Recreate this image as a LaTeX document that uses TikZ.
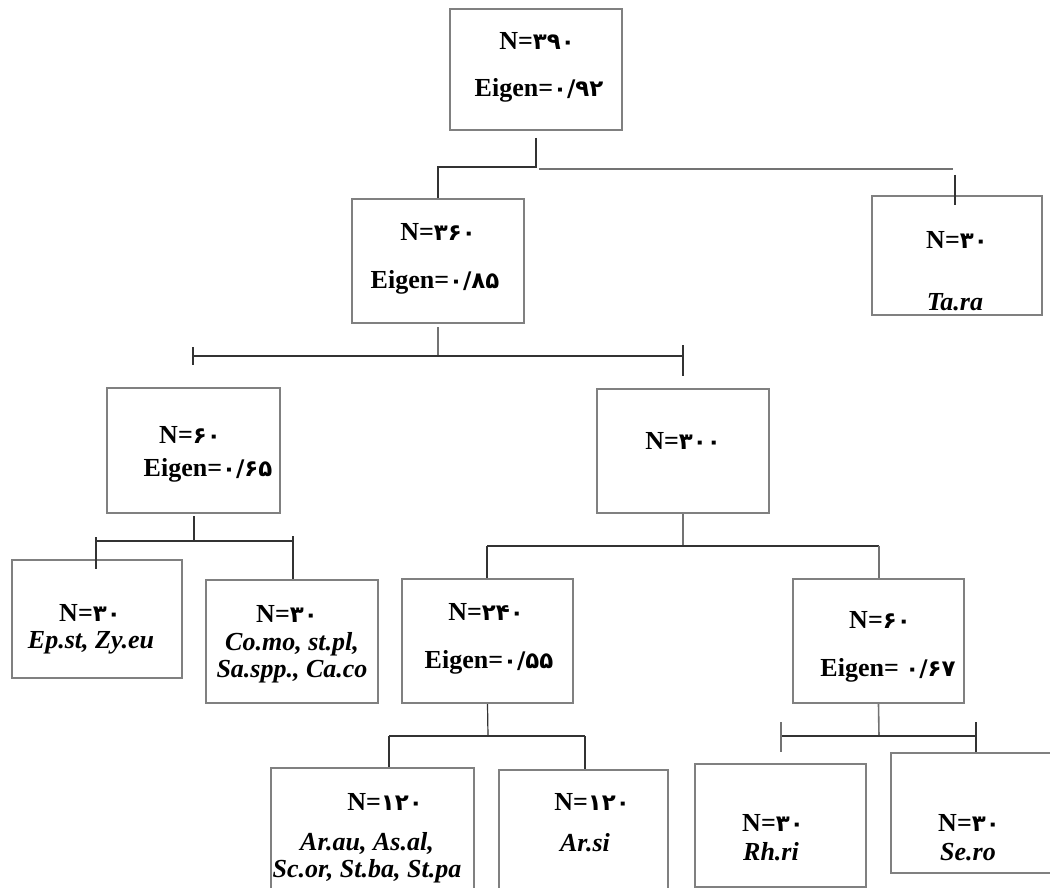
\documentclass[tikz,border=0pt]{standalone}
\usepackage{fontspec}
\setmainfont{Liberation Serif}
\newfontfamily\fa[Script=Arabic,Scale=0.88]{DejaVu Sans}
\begin{document}
\begin{tikzpicture}[x=1pt,y=-1pt,
  box/.style={draw=black!50,line width=2.4pt,fill=white,inner sep=0pt,rectangle},
  lbl/.style={inner sep=0pt,font=\fontsize{26}{30}\selectfont\bfseries},
  sp/.style={inner sep=0pt,font=\fontsize{26}{30}\selectfont\bfseries\itshape},
  con/.style={draw=black!80,line width=1.2pt},
  cong/.style={draw=black!55,line width=1.6pt}]
\useasboundingbox (0,0) rectangle (1050,888);
\fill[white] (0,0) rectangle (1050,888);
% boxes
\node[box,minimum width=172pt,minimum height=121pt] (A) at (536,69.5) {};
\node[box,minimum width=172pt,minimum height=124pt] (B) at (438,261) {};
\node[box,minimum width=170pt,minimum height=119pt] (T) at (957,255.5) {};
\node[box,minimum width=173pt,minimum height=125pt] (C) at (193.5,450.5) {};
\node[box,minimum width=172pt,minimum height=124pt] (D) at (683,451) {};
\node[box,minimum width=170pt,minimum height=118pt] (G) at (97,619) {};
\node[box,minimum width=172pt,minimum height=123pt] (H) at (292,641.5) {};
\node[box,minimum width=171pt,minimum height=124pt] (E) at (487.5,641) {};
\node[box,minimum width=171pt,minimum height=124pt] (F) at (878.5,641) {};
\node[box,minimum width=203pt,minimum height=140pt] (I) at (372.5,838) {};
\node[box,minimum width=169pt,minimum height=140pt] (J) at (583.5,840) {};
\node[box,minimum width=171pt,minimum height=123pt] (K) at (780.5,825.5) {};
\node[box,minimum width=170pt,minimum height=120pt] (L) at (976,813) {};
% connector coordinates
\coordinate (a0) at (536,138); \coordinate (a1) at (536,167);
\coordinate (a2) at (438,167); \coordinate (a3) at (539,169);
\coordinate (a4) at (953,169); \coordinate (a5) at (955,175);
\coordinate (a6) at (955,205);
\coordinate (b0) at (438,327); \coordinate (b1) at (438,356);
\coordinate (b2) at (193,356); \coordinate (b3) at (683,356);
\coordinate (b4) at (193,347); \coordinate (b5) at (193,365);
\coordinate (b6) at (683,345); \coordinate (b7) at (683,376);
\coordinate (c0) at (194,516); \coordinate (c1) at (194,541);
\coordinate (c2) at (96,541); \coordinate (c3) at (293,541);
\coordinate (c4) at (96,537); \coordinate (c5) at (96,569);
\coordinate (c6) at (293,536);
\coordinate (d0) at (683,546); \coordinate (d1) at (487,546);
\coordinate (d2) at (879,546);
\coordinate (e0) at (488,736); \coordinate (e1) at (389,736);
\coordinate (e2) at (585,736);
\coordinate (f0) at (879,736); \coordinate (f1) at (781,736);
\coordinate (f2) at (976,736); \coordinate (f3) at (781,722);
\coordinate (f4) at (781,752); \coordinate (f5) at (976,722);
% connectors
\draw[con] (a0) -- (a1) -- (a2) -- (a2 |- B.north);
\draw[cong] (a3) -- (a4);
\draw[con] (a5) -- (a6);
\draw[cong] (b0) -- (b1);
\draw[con] (b2) -- (b3);
\draw[con] (b4) -- (b5);
\draw[con] (b6) -- (b7);
\draw[con] (c0) -- (c1) -- (c2);
\draw[con] (c1) -- (c3);
\draw[con] (c4) -- (c5);
\draw[con] (c6) -- (c6 |- H.north);
\draw[cong] (D.south) -- (d0);
\draw[con] (d1) -- (d2);
\draw[con] (d1) -- (d1 |- E.north);
\draw[cong] (d2) -- (d2 |- F.north);
\draw[con] (E.south) -- (e0);
\draw[con] (e1) -- (e2);
\draw[con] (e1) -- (e1 |- I.north);
\draw[con] (e2) -- (e2 |- J.north);
\draw[cong] (F.south) -- (f0);
\draw[con] (f1) -- (f2);
\draw[cong] (f3) -- (f4);
\draw[con] (f5) -- (f5 |- L.north);
% labels
\node[lbl] (tA1) at (537,41) {N=\fa ۳۹۰};
\node[lbl] (tA2) at (539,90) {Eigen=\fa ۰/۹۲};
\node[lbl] (tB1) at (438,232) {N=\fa ۳۶۰};
\node[lbl] (tB2) at (435,282) {Eigen=\fa ۰/۸۵};
\node[lbl] (tT1) at (957,240) {N=\fa ۳۰};
\node[sp]  (tT2) at (955,302) {Ta.ra};
\node[lbl] (tC1) at (190,435) {N=\fa ۶۰};
\node[lbl] (tC2) at (208,470) {Eigen=\fa ۰/۶۵};
\node[lbl] (tD1) at (683,441) {N=\fa ۳۰۰};
\node[lbl] (tG1) at (90,613) {N=\fa ۳۰};
\node[sp]  (tG2) at (91,643) {Ep.st, Zy.eu};
\node[lbl] (tH1) at (287,614) {N=\fa ۳۰};
\node[sp,align=center] (tH2) at (292,658) {Co.mo, st.pl,\\[-3pt]Sa.spp., Ca.co};
\node[lbl] (tE1) at (486,612) {N=\fa ۲۴۰};
\node[lbl] (tE2) at (489,662) {Eigen=\fa ۰/۵۵};
\node[lbl] (tF1) at (880,620) {N=\fa ۶۰};
\node[lbl] (tF2) at (888,670) {Eigen= \fa ۰/۶۷};
\node[lbl] (tI1) at (385,802) {N=\fa ۱۲۰};
\node[sp,align=center] (tI2) at (367,858) {Ar.au, As.al,\\[-3pt]Sc.or, St.ba, St.pa};
\node[lbl] (tJ1) at (592,802) {N=\fa ۱۲۰};
\node[sp]  (tJ2) at (585,843) {Ar.si};
\node[lbl] (tK1) at (773,823) {N=\fa ۳۰};
\node[sp]  (tK2) at (771,852) {Rh.ri};
\node[lbl] (tL1) at (969,823) {N=\fa ۳۰};
\node[sp]  (tL2) at (968,852) {Se.ro};
\end{tikzpicture}
\end{document}
